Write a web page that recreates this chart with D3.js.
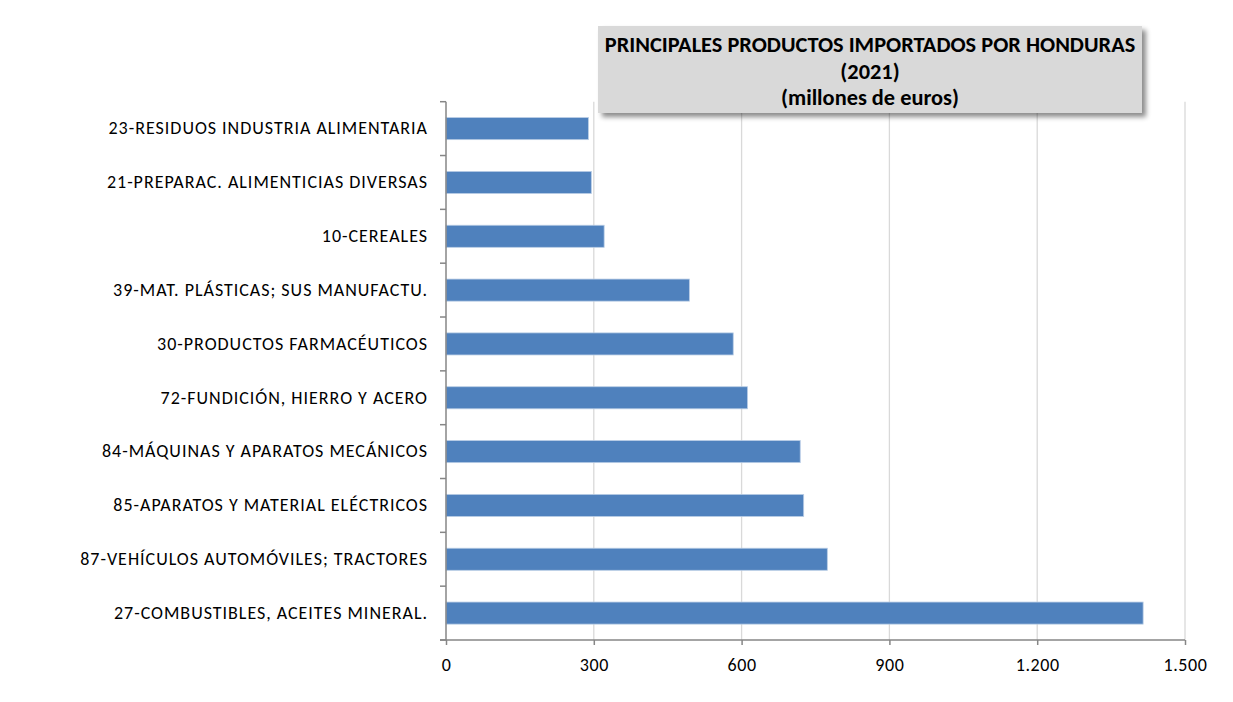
<!DOCTYPE html>
<html>
<head>
<meta charset="utf-8">
<script src="https://cdn.jsdelivr.net/npm/d3@7"></script>
<style>
  body { margin: 0; background: #fff; }
  text { font-family: Carlito, Calibri, "Liberation Sans", sans-serif; }
</style>
</head>
<body>
<div id="chart"></div>
<script>
// Datos (millones de euros)
const categorias = [
    '23-RESIDUOS INDUSTRIA ALIMENTARIA',
    '21-PREPARAC. ALIMENTICIAS DIVERSAS',
    '10-CEREALES',
    '39-MAT. PLÁSTICAS; SUS MANUFACTU.',
    '30-PRODUCTOS FARMACÉUTICOS',
    '72-FUNDICIÓN, HIERRO Y ACERO',
    '84-MÁQUINAS Y APARATOS MECÁNICOS',
    '85-APARATOS Y MATERIAL ELÉCTRICOS',
    '87-VEHÍCULOS AUTOMÓVILES; TRACTORES',
    '27-COMBUSTIBLES, ACEITES MINERAL.'
];
const valores = [289, 295, 321, 494, 583, 612, 719, 726, 774, 1415];
const ticksX = [0, 300, 600, 900, 1200, 1500];
const tituloLineas = ['PRINCIPALES PRODUCTOS IMPORTADOS POR HONDURAS', '(2021)', '(millones de euros)'];

const width = 1233;
const height = 702;
const margin = { top: 101.7, right: 48, bottom: 62, left: 446 };
const chartWidth = 1185 - margin.left;
const chartHeight = 640 - margin.top;

const svg = d3.select('#chart').append('svg')
    .attr('width', width)
    .attr('height', height);

const defs = svg.append('defs');
const filtro = defs.append('filter')
    .attr('id', 'sombra')
    .attr('x', '-5%').attr('y', '-10%')
    .attr('width', '115%').attr('height', '130%');
filtro.append('feDropShadow')
    .attr('dx', 4).attr('dy', 4)
    .attr('stdDeviation', 2.5)
    .attr('flood-color', '#000')
    .attr('flood-opacity', 0.45);

const g = svg.append('g')
    .attr('transform', `translate(${margin.left},${margin.top})`);

// Escalas
const xScale = d3.scaleLinear()
    .domain([0, 1500])
    .range([0, chartWidth]);

const yScale = d3.scaleBand()
    .domain(categorias)
    .range([0, chartHeight])
    .paddingInner(0.59)
    .paddingOuter(0.295);

const yBand = d3.scaleBand()
    .domain(categorias)
    .range([0, chartHeight]);

// Rejilla vertical
g.selectAll('.grid')
    .data(ticksX.slice(1))
    .enter()
    .append('line')
    .attr('class', 'grid')
    .attr('x1', d => xScale(d))
    .attr('x2', d => xScale(d))
    .attr('y1', 0)
    .attr('y2', chartHeight)
    .attr('stroke', '#d9d9d9')
    .attr('stroke-width', 1.3);

// Barras
g.selectAll('.bar')
    .data(valores)
    .enter()
    .append('rect')
    .attr('class', 'bar')
    .attr('x', 0)
    .attr('y', (d, i) => yScale(categorias[i]))
    .attr('width', d => xScale(d))
    .attr('height', yScale.bandwidth())
    .attr('fill', '#4f81bd')
    .attr('stroke', '#b9cde5')
    .attr('stroke-width', 0.8);

// Eje X
const ejeX = g.append('g')
    .attr('transform', `translate(0, ${chartHeight})`)
    .call(d3.axisBottom(xScale)
        .tickValues(ticksX)
        .tickSize(5)
        .tickPadding(13)
        .tickFormat(d => d3.format(',')(d).replace(/,/g, '.')));
const textosX = ejeX.selectAll('text')
    .attr('fill', '#000')
    .style('font-size', '18px');
// ajustar espaciado para que "1.500" mida ~44px
const ultimo = textosX.filter(d => d === 1500).node();
const espX = Math.max(0, (44 - ultimo.getComputedTextLength()) / 5);
textosX.style('letter-spacing', espX + 'px');

// Eje Y
const ejeY = g.append('g')
    .call(d3.axisLeft(yBand).tickSize(0).tickPadding(19));
const textosY = ejeY.selectAll('text')
    .attr('fill', '#000')
    .style('font-size', '18px');
// ajustar espaciado para que la etiqueta más larga de referencia mida ~314px
const ref = textosY.filter(d => d === categorias[9]).node();
const espY = Math.max(0, (314 - ref.getComputedTextLength()) / categorias[9].length);
textosY.style('letter-spacing', espY + 'px')
    .attr('dx', espY);

// Marcas del eje Y en los límites de cada categoría
g.selectAll('.ytick')
    .data(d3.range(categorias.length + 1))
    .enter()
    .append('line')
    .attr('class', 'ytick')
    .attr('x1', -6)
    .attr('x2', 0)
    .attr('y1', i => i * yBand.step())
    .attr('y2', i => i * yBand.step())
    .attr('stroke', '#868686')
    .attr('stroke-width', 1.5);

g.selectAll('.domain, .tick line')
    .attr('stroke', '#868686')
    .attr('stroke-width', 1.5);
ejeY.select('.domain').attr('d', `M0,0V${chartHeight}`);
ejeX.select('.domain').attr('d', `M-6,0H${chartWidth}`);

// Título
const titulo = svg.append('g');
titulo.append('rect')
    .attr('x', 598)
    .attr('y', 26)
    .attr('width', 544)
    .attr('height', 87)
    .attr('fill', '#d9d9d9')
    .attr('filter', 'url(#sombra)');

const textosTitulo = titulo.selectAll('text')
    .data(tituloLineas)
    .enter()
    .append('text')
    .attr('x', 870)
    .attr('y', (d, i) => 52 + i * 26.5)
    .attr('text-anchor', 'middle')
    .attr('fill', '#000')
    .attr('font-size', '20px')
    .attr('font-weight', 'bold')
    .text(d => d);
// escalar la fuente para que la primera línea mida ~531px
const w0 = textosTitulo.filter((d, i) => i === 0).node().getComputedTextLength();
const tamTitulo = Math.min(24, 20 * 531 / w0);
textosTitulo.attr('font-size', tamTitulo + 'px');
</script>
</body>
</html>
